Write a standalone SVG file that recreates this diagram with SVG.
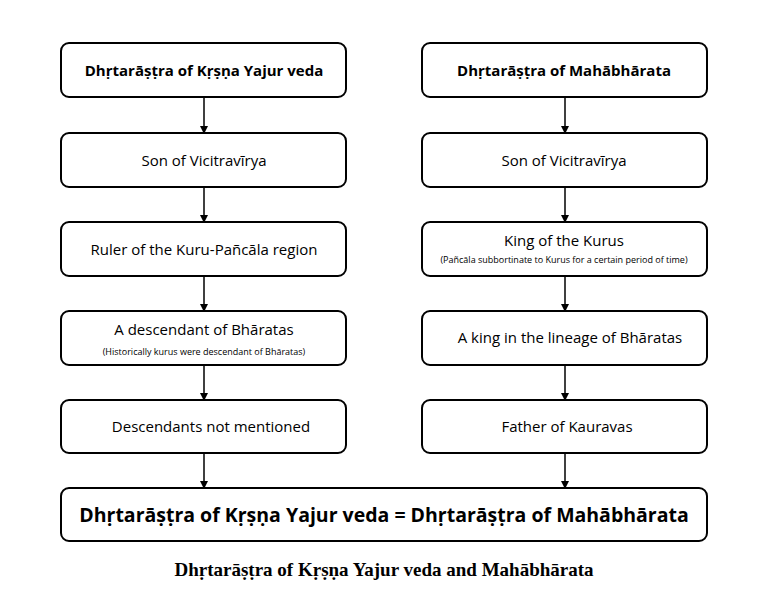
<svg xmlns="http://www.w3.org/2000/svg" width="759" height="597" viewBox="0 0 759 597">
<style>
.b{fill:#fff;stroke:#000;stroke-width:2}
.t{font-family:"Open Sans","Liberation Sans",sans-serif;font-size:15px;text-anchor:middle;fill:#000}
.s{font-family:"Open Sans","Liberation Sans",sans-serif;font-size:9px;text-anchor:middle;fill:#000}
.c{stroke:#000;stroke-width:1.5;fill:none;marker-end:url(#a)}
</style>
<defs><marker id="a" markerWidth="8" markerHeight="8" refX="7" refY="4" orient="auto" markerUnits="userSpaceOnUse"><path d="M0,0L8,4L0,8z"/></marker></defs>
<rect width="759" height="597" fill="#fff"/>
<g id="l1"><rect class="b" x="61" y="43" width="285" height="54" rx="8"/><text class="t" x="204" y="76" font-weight="bold">Dhṛtarāṣṭra of Kṛṣṇa Yajur veda</text></g>
<g id="l2"><rect class="b" x="61" y="133" width="285" height="54" rx="8"/><text class="t" x="204" y="166">Son of Vicitravīrya</text></g>
<g id="l3"><rect class="b" x="61" y="222" width="285" height="54" rx="8"/><text class="t" x="204" y="255">Ruler of the Kuru-Pañcāla region</text></g>
<g id="l4"><rect class="b" x="61" y="311" width="285" height="54" rx="8"/><text class="t" x="204" y="335">A descendant of Bhāratas</text><text class="s" x="204" y="355">(Historically kurus were descendant of Bhāratas)</text></g>
<g id="l5"><rect class="b" x="61" y="400" width="285" height="53" rx="8"/><text class="t" x="211" y="432">Descendants not mentioned</text></g>
<g id="r1"><rect class="b" x="422" y="43" width="285" height="54" rx="8"/><text class="t" x="564" y="76" font-weight="bold">Dhṛtarāṣṭra of Mahābhārata</text></g>
<g id="r2"><rect class="b" x="422" y="133" width="285" height="54" rx="8"/><text class="t" x="564" y="166">Son of Vicitravīrya</text></g>
<g id="r3"><rect class="b" x="422" y="222" width="285" height="54" rx="8"/><text class="t" x="564" y="246">King of the Kurus</text><text class="s" x="564" y="263">(Pañcāla subbortinate to Kurus for a certain period of time)</text></g>
<g id="r4"><rect class="b" x="422" y="311" width="285" height="54" rx="8"/><text class="t" x="570" y="343">A king in the lineage of Bhāratas</text></g>
<g id="r5"><rect class="b" x="422" y="400" width="285" height="53" rx="8"/><text class="t" x="567" y="432">Father of Kauravas</text></g>
<g id="bottom"><rect class="b" x="61" y="488" width="646" height="53" rx="8"/><text class="t" x="384" y="522" style="font-size:19.5px;font-weight:bold">Dhṛtarāṣṭra of Kṛṣṇa Yajur veda = Dhṛtarāṣṭra of Mahābhārata</text></g>
<g id="connectors">
<path class="c" d="M204,97V133"/><path class="c" d="M204,187V222"/><path class="c" d="M204,276V311"/><path class="c" d="M204,365V400"/><path class="c" d="M204,453V488"/>
<path class="c" d="M565,97V133"/><path class="c" d="M565,187V222"/><path class="c" d="M565,276V311"/><path class="c" d="M565,365V400"/><path class="c" d="M565,453V488"/>
</g>
<text x="384" y="576" font-family="Liberation Serif,serif" font-size="19" font-weight="bold" text-anchor="middle">Dhṛtarāṣṭra of Kṛṣṇa Yajur veda and Mahābhārata</text>
</svg>
